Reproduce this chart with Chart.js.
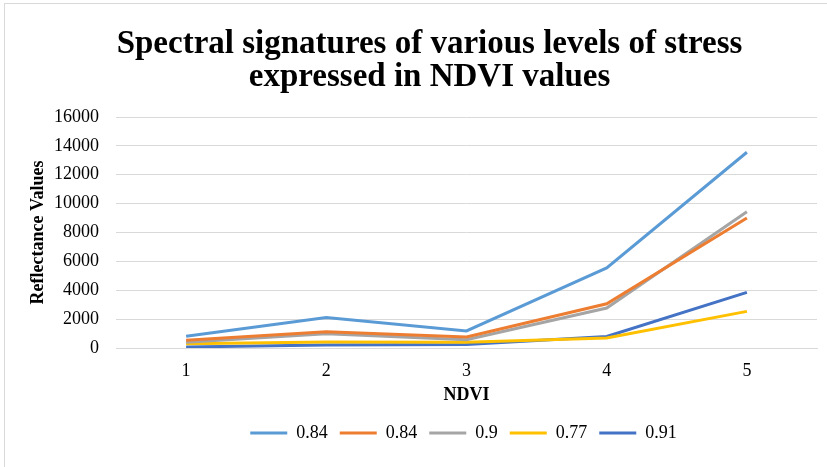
<!DOCTYPE html>
<html>
<head>
<meta charset="utf-8">
<title>Spectral signatures</title>
<script src="https://cdn.jsdelivr.net/npm/chart.js@4/dist/chart.umd.min.js"></script>
<style>
    html, body { margin: 0; padding: 0; background: #fff; overflow: hidden; }
    #wrap { position: relative; width: 827px; height: 467px; }
    #frame {
        position: absolute; left: 4px; top: 3px; width: 840px; height: 480px;
        border: 1px solid #d9d9d9; pointer-events: none;
    }
</style>
</head>
<body>
<div id="wrap">
    <canvas id="statsChart" width="827" height="467"></canvas>
    <div id="frame"></div>
</div>
<script>
// Data
const categories = ['1', '2', '3', '4', '5'];
const seriesLabels = ['0.84', '0.84', '0.9', '0.77', '0.91'];
const seriesA = [820, 2120, 1180, 5550, 13560]; // 0.84 (light blue)
const seriesB = [540, 1120, 770, 3060, 9000];   // 0.84 (orange)
const seriesC = [400, 980, 580, 2770, 9440];    // 0.9 (gray)
const seriesD = [300, 420, 400, 700, 2535];     // 0.77 (yellow)
const seriesE = [70, 210, 240, 800, 3850];      // 0.91 (dark blue)
const yTicks = [0, 2000, 4000, 6000, 8000, 10000, 12000, 14000, 16000];

const colors = ['#5B9BD5', '#ED7D31', '#A5A5A5', '#FFC000', '#4472C4'];
const allSeries = [seriesA, seriesB, seriesC, seriesD, seriesE];

const SERIF = "'Liberation Serif', 'Times New Roman', serif";

const datasets = allSeries.map((values, i) => ({
    label: seriesLabels[i],
    data: values,
    borderColor: colors[i],
    backgroundColor: colors[i],
    borderWidth: 3,
    pointRadius: 0,
    pointStyle: 'line',
    tension: 0,
    fill: false
}));

// Excel centres title and legend a bit right of the canvas middle
const boxShift = {
    id: 'boxShift',
    afterLayout(chart) {
        chart.legend.left += 44;
        chart.legend.right += 44;
        chart.titleBlock.left += 10;
        chart.titleBlock.right += 10;
    }
};

const ctx = document.getElementById('statsChart').getContext('2d');
const myChart = new Chart(ctx, {
    type: 'line',
    data: { labels: categories, datasets: datasets },
    plugins: [boxShift],
    options: {
        responsive: false,
        animation: false,
        layout: { padding: { left: 22, right: 10, top: 0, bottom: 15 } },
        plugins: {
            title: {
                display: true,
                text: ['Spectral signatures of various levels of stress', 'expressed in NDVI values'],
                color: '#000',
                font: { family: SERIF, size: 33, weight: 'bold', lineHeight: 1.0 },
                padding: { top: 28, bottom: 23 }
            },
            legend: {
                position: 'bottom',
                labels: {
                    color: '#000',
                    font: { family: SERIF, size: 18 },
                    usePointStyle: true,
                    pointStyleWidth: 37,
                    boxHeight: 3,
                    padding: 12
                }
            },
            tooltip: { enabled: false }
        },
        scales: {
            x: {
                offset: true,
                afterFit: axis => { axis.height = 64; },
                grid: { display: false, drawTicks: false, tickLength: 0 },
                border: { color: '#d9d9d9' },
                ticks: { color: '#000', font: { family: SERIF, size: 18 }, padding: 12 },
                title: {
                    display: true,
                    text: 'NDVI',
                    color: '#000',
                    font: { family: SERIF, size: 18, weight: 'bold' },
                    padding: { top: 0, bottom: 6 }
                }
            },
            y: {
                min: 0,
                max: 16000,
                afterBuildTicks: axis => { axis.ticks = yTicks.map(v => ({ value: v })); },
                afterFit: axis => { axis.width = 94; },
                grid: { color: '#d9d9d9', drawTicks: false, tickLength: 0 },
                border: { display: false },
                ticks: {
                    color: '#000',
                    font: { family: SERIF, size: 18 },
                    padding: 17,
                    callback: value => String(value)
                },
                title: {
                    display: true,
                    text: 'Reflectance Values',
                    color: '#000',
                    font: { family: SERIF, size: 18, weight: 'bold' },
                    padding: { top: 6, bottom: 4 }
                }
            }
        }
    }
});
</script>
</body>
</html>
